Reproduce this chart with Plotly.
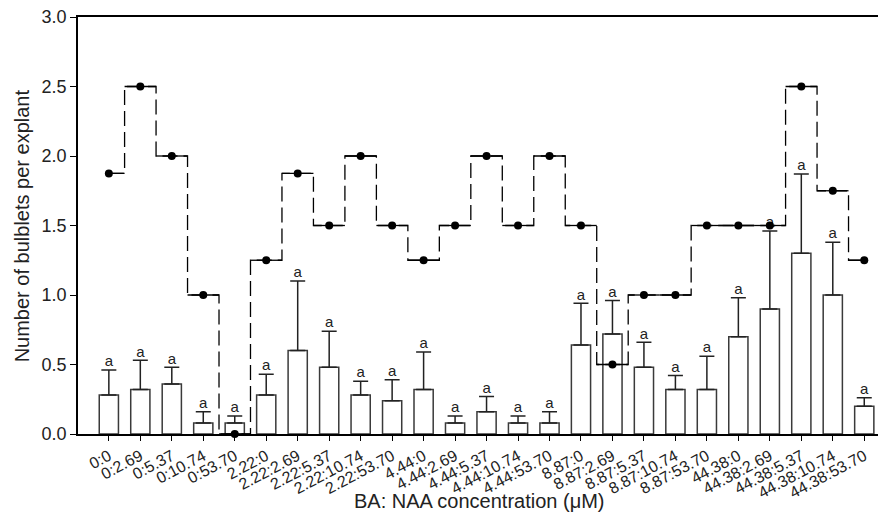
import plotly.graph_objects as go

categories = ["0:0", "0:2.69", "0:5.37", "0:10.74", "0:53.70",
              "2.22:0", "2.22:2.69", "2.22:5.37", "2.22:10.74", "2.22:53.70",
              "4.44:0", "4.44:2.69", "4.44:5.37", "4.44:10.74", "4.44:53.70",
              "8.87:0", "8.87:2.69", "8.87:5.37", "8.87:10.74", "8.87:53.70",
              "44.38:0", "44.38:2.69", "44.38:5.37", "44.38:10.74", "44.38:53.70"]

bar_means = [0.28, 0.32, 0.36, 0.08, 0.08,
             0.28, 0.60, 0.48, 0.28, 0.24,
             0.32, 0.08, 0.16, 0.08, 0.08,
             0.64, 0.72, 0.48, 0.32, 0.32,
             0.70, 0.90, 1.30, 1.00, 0.20]

bar_se = [0.18, 0.21, 0.12, 0.08, 0.05,
          0.15, 0.50, 0.26, 0.10, 0.15,
          0.27, 0.05, 0.11, 0.05, 0.08,
          0.30, 0.24, 0.18, 0.10, 0.24,
          0.28, 0.56, 0.57, 0.38, 0.06]

sig_letters = ["a"] * 25

line_values = [1.875, 2.5, 2.0, 1.0, 0.0,
               1.25, 1.875, 1.5, 2.0, 1.5,
               1.25, 1.5, 2.0, 1.5, 2.0,
               1.5, 0.5, 1.0, 1.0, 1.5,
               1.5, 1.5, 2.5, 1.75, 1.25]

y_ticks = [0.0, 0.5, 1.0, 1.5, 2.0, 2.5, 3.0]

FONT = "Liberation Sans, Arial, Helvetica, sans-serif"
n = len(categories)
idx = list(range(n))

fig = go.Figure()

fig.add_trace(go.Bar(
    x=idx, y=bar_means, width=0.61,
    marker=dict(color="white", line=dict(color="#3a3a3a", width=1.5)),
    error_y=dict(type="data", symmetric=False, array=bar_se,
                 arrayminus=[0] * n, color="#222222", thickness=1.5, width=7.5),
    showlegend=False, hoverinfo="skip",
))

fig.add_trace(go.Scatter(
    x=idx, y=[m + s for m, s in zip(bar_means, bar_se)],
    mode="text", text=sig_letters, textposition="top center",
    textfont=dict(family=FONT, size=15, color="#222222"),
    showlegend=False, hoverinfo="skip",
))

# dashed step line (vertical risers)
fig.add_trace(go.Scatter(
    x=idx, y=line_values, mode="lines", line_shape="hvh",
    line=dict(color="black", width=1.3, dash="15px,6px"),
    showlegend=False, hoverinfo="skip", cliponaxis=False,
))

# solid horizontal steps
hx, hy = [], []
for i, v in enumerate(line_values):
    hx += [max(i - 0.5, 0), min(i + 0.5, n - 1), None]
    hy += [v, v, None]
fig.add_trace(go.Scatter(
    x=hx, y=hy, mode="lines", line=dict(color="black", width=1.3),
    showlegend=False, hoverinfo="skip", cliponaxis=False,
))

fig.add_trace(go.Scatter(
    x=idx, y=line_values, mode="markers",
    marker=dict(color="black", size=8, symbol="circle"),
    showlegend=False, hoverinfo="skip", cliponaxis=False,
))

fig.update_layout(
    width=886, height=521,
    margin=dict(l=70, r=14, t=9, b=95),
    plot_bgcolor="white", paper_bgcolor="white",
    font=dict(family=FONT, color="#222222"),
    xaxis=dict(
        range=[-0.98, 24.5], tickmode="array", tickvals=idx, ticktext=categories,
        tickangle=-28, tickfont=dict(size=16), ticks="outside", ticklen=5,
        tickcolor="black", showline=True, linecolor="black", linewidth=1.5,
        mirror=True, showgrid=False, zeroline=False, automargin=False,
    ),
    yaxis=dict(
        range=[0, 3.0], tickmode="array", tickvals=y_ticks, tickformat=".1f",
        tickfont=dict(size=18), ticks="outside", ticklen=6, tickcolor="black",
        showline=True, linecolor="black", linewidth=1.5, showgrid=False,
        zeroline=False, automargin=False, ticklabeloverflow="allow",
    ),
    annotations=[
        dict(text="BA: NAA concentration (μM)", xref="paper", yref="paper",
             x=0.5, y=-0.16, xanchor="center", yanchor="middle",
             showarrow=False, font=dict(size=20)),
        dict(text="Number of bulblets per explant", xref="paper", yref="paper",
             x=-0.07, y=0.5, xanchor="center", yanchor="middle", textangle=-90,
             showarrow=False, font=dict(size=20)),
    ],
)

fig.write_html("out.html")
